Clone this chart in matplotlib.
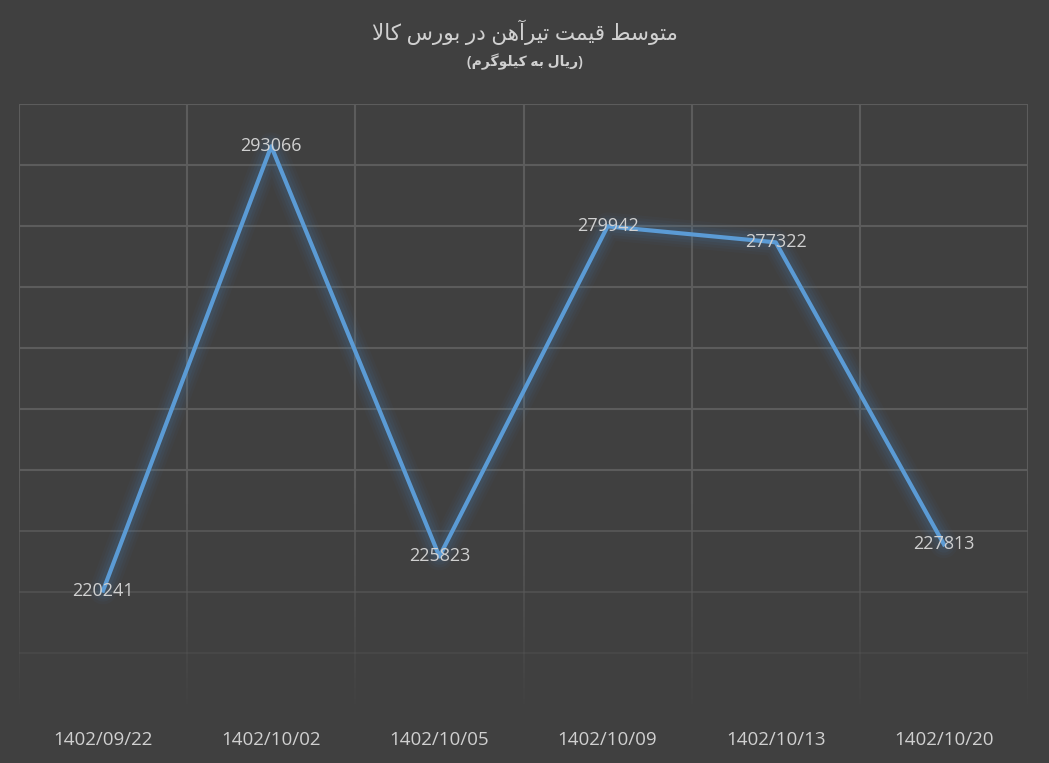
import matplotlib
matplotlib.use("Agg")
import matplotlib.pyplot as plt
import numpy as np
from matplotlib.collections import LineCollection

plt.rcParams['font.family'] = ['Open Sans', 'DejaVu Sans']

dates = ['1402/09/22', '1402/10/02', '1402/10/05', '1402/10/09', '1402/10/13', '1402/10/20']
prices = [220241, 293066, 225823, 279942, 277322, 227813]
title = 'متوسط قیمت تیرآهن در بورس کالا'
subtitle = '(ریال به کیلوگرم)'

BG = '#404040'
GRID = '#5c5c5c'
TXT = '#d0d0d0'
BLUE = '#5b9bd5'

# tiny arabic shaper: (isolated, final, initial, medial)
FORMS = {
    'ا': ('\uFE8D', '\uFE8E', None, None),
    'آ': ('\uFE81', '\uFE82', None, None),
    'ب': ('\uFE8F', '\uFE90', '\uFE91', '\uFE92'),
    'ت': ('\uFE95', '\uFE96', '\uFE97', '\uFE98'),
    'د': ('\uFEA9', '\uFEAA', None, None),
    'ر': ('\uFEAD', '\uFEAE', None, None),
    'س': ('\uFEB1', '\uFEB2', '\uFEB3', '\uFEB4'),
    'ط': ('\uFEC1', '\uFEC2', '\uFEC3', '\uFEC4'),
    'ق': ('\uFED5', '\uFED6', '\uFED7', '\uFED8'),
    'ل': ('\uFEDD', '\uFEDE', '\uFEDF', '\uFEE0'),
    'م': ('\uFEE1', '\uFEE2', '\uFEE3', '\uFEE4'),
    'ن': ('\uFEE5', '\uFEE6', '\uFEE7', '\uFEE8'),
    'ه': ('\uFEE9', '\uFEEA', '\uFEEB', '\uFEEC'),
    'و': ('\uFEED', '\uFEEE', None, None),
    'ی': ('\uFBFC', '\uFBFD', '\uFBFE', '\uFBFF'),
    'ک': ('\uFB8E', '\uFB8F', '\uFB90', '\uFB91'),
    'گ': ('\uFB92', '\uFB93', '\uFB94', '\uFB95'),
}
LAMALEF = {'ا': ('\uFEFB', '\uFEFC'), 'آ': ('\uFEF5', '\uFEF6')}
MIRROR = {'(': ')', ')': '('}


def shape(text):
    out = []
    i = 0
    n = len(text)
    while i < n:
        c = text[i]
        if c not in FORMS:
            out.append(MIRROR.get(c, c))
            i += 1
            continue
        prev = text[i - 1] if i > 0 else ''
        join_prev = prev in FORMS and FORMS[prev][2] is not None
        if c == 'ل' and i + 1 < n and text[i + 1] in LAMALEF:
            out.append(LAMALEF[text[i + 1]][1 if join_prev else 0])
            i += 2
            continue
        nxt = text[i + 1] if i + 1 < n else ''
        join_next = FORMS[c][2] is not None and nxt in FORMS
        iso, fin, ini, med = FORMS[c]
        if join_prev and join_next:
            out.append(med)
        elif join_prev:
            out.append(fin)
        elif join_next:
            out.append(ini)
        else:
            out.append(iso)
        i += 1
    return ''.join(out)[::-1]


fig = plt.figure(figsize=(10.49, 7.63), dpi=100, facecolor=BG)
ax = fig.add_axes([19 / 1049, 49 / 763, 1009 / 1049, 610 / 763])
ax.set_facecolor(BG)
ymin, ymax = 200000, 300000
ax.set_xlim(-0.5, len(dates) - 0.5)
ax.set_ylim(ymin, ymax)
for s in ax.spines.values():
    s.set_visible(False)
ax.tick_params(length=0)
ax.set_yticks([])
ax.set_xticks(range(len(dates)))
ax.set_xticklabels(dates, color=TXT, fontsize=13.5)
ax.tick_params(axis='x', pad=12)


def fade(y):
    return min(1.0, (y - ymin) / (ymax - ymin) * 2.5)


# horizontal grid, fading downward
for y in range(ymin + 10000, ymax + 1, 10000):
    ax.axhline(y, color=GRID, lw=1.5, alpha=fade(y), zorder=1)

# vertical grid, fading downward
ys = np.linspace(ymin, ymax, 120)
for x in np.arange(-0.5, len(dates), 1.0):
    segs = [[(x, ys[k]), (x, ys[k + 1])] for k in range(len(ys) - 1)]
    alphas = [fade((ys[k] + ys[k + 1]) / 2) for k in range(len(ys) - 1)]
    cols = [matplotlib.colors.to_rgba(GRID, a) for a in alphas]
    ax.add_collection(LineCollection(segs, colors=cols, lw=1.5, zorder=1))

xs = np.arange(len(dates))
# glow
for lw, a in [(20, 0.04), (16, 0.05), (12, 0.07), (8, 0.09)]:
    ax.plot(xs, prices, color='#4a86c0', lw=lw, alpha=a, solid_capstyle='round',
            solid_joinstyle='round', zorder=2)
ax.plot(xs, prices, color=BLUE, lw=3, solid_joinstyle='round', zorder=3)

for x, v in zip(xs, prices):
    ax.text(x, v, str(v), color=TXT, fontsize=13, ha='center', va='center', zorder=4)

fig.text(0.5, 1 - 32 / 763, shape(title), color=TXT, fontsize=15.5, ha='center', va='center')
fig.text(0.5, 1 - 62 / 763, shape(subtitle), color=TXT, fontsize=10, ha='center', va='center',
         fontweight='bold')

fig.savefig('out.png', dpi=100, facecolor=BG)
